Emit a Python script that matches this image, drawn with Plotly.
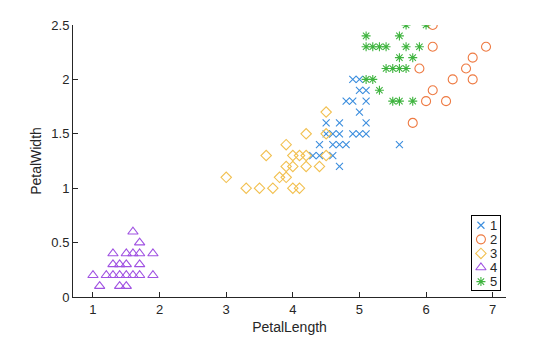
import plotly.graph_objects as go

# Cluster memberships of iris petal measurements (PetalLength, PetalWidth)
c1_len = [4.9, 5.0, 5.0, 5.1, 4.8, 4.9, 5.1, 5.0, 4.5, 4.7, 5.1, 4.5, 4.6, 4.7, 4.9, 5.0, 5.1,
          4.4, 4.6, 4.7, 4.8, 5.6, 4.3, 4.4, 4.6, 4.7]
c1_wid = [2.0, 2.0, 1.9, 1.9, 1.8, 1.8, 1.8, 1.7, 1.6, 1.6, 1.6, 1.5, 1.5, 1.5, 1.5, 1.5, 1.5,
          1.4, 1.4, 1.4, 1.4, 1.4, 1.3, 1.3, 1.3, 1.2]

c2_len = [6.1, 6.1, 6.9, 6.7, 5.9, 6.6, 6.4, 6.7, 6.1, 6.0, 6.3, 5.8]
c2_wid = [2.5, 2.3, 2.3, 2.2, 2.1, 2.1, 2.0, 2.0, 1.9, 1.8, 1.8, 1.6]

c3_len = [3.3, 3.5, 3.7, 4.0, 4.1, 3.0, 3.8, 3.9, 3.9, 4.0, 4.2, 4.4, 3.6, 4.0, 4.1, 4.2, 4.5,
          3.9, 4.2, 4.5, 4.5]
c3_wid = [1.0, 1.0, 1.0, 1.0, 1.0, 1.1, 1.1, 1.1, 1.2, 1.2, 1.2, 1.2, 1.3, 1.3, 1.3, 1.3, 1.3,
          1.4, 1.5, 1.5, 1.7]

c4_len = [1.6, 1.7, 1.3, 1.5, 1.6, 1.7, 1.9, 1.3, 1.4, 1.5, 1.7, 1.0, 1.2, 1.3, 1.4, 1.5, 1.6,
          1.7, 1.9, 1.1, 1.4, 1.5]
c4_wid = [0.6, 0.5, 0.4, 0.4, 0.4, 0.4, 0.4, 0.3, 0.3, 0.3, 0.3, 0.2, 0.2, 0.2, 0.2, 0.2, 0.2,
          0.2, 0.2, 0.1, 0.1, 0.1]

c5_len = [5.7, 6.0, 5.1, 5.6, 5.1, 5.2, 5.3, 5.4, 5.7, 5.9, 5.6, 5.8, 5.4, 5.5, 5.6, 5.7, 5.1,
          5.2, 5.3, 5.5, 5.6, 5.8]
c5_wid = [2.5, 2.5, 2.4, 2.4, 2.3, 2.3, 2.3, 2.3, 2.3, 2.3, 2.2, 2.2, 2.1, 2.1, 2.1, 2.1, 2.0,
          2.0, 1.9, 1.8, 1.8, 1.8]

group_names = ["1", "2", "3", "4", "5"]
x_ticks = [1, 2, 3, 4, 5, 6, 7]
y_ticks = [0, 0.5, 1, 1.5, 2, 2.5]
y_tick_text = ["0", "0.5", "1", "1.5", "2", "2.5"]

groups = [
    (c1_len, c1_wid, "x-thin", 7, "#3C8EDE"),
    (c2_len, c2_wid, "circle-open", 9, "#EE7A42"),
    (c3_len, c3_wid, "diamond-open", 8, "#F2C050"),
    (c4_len, c4_wid, "triangle-up-open", 9, "#A052E2"),
    (c5_len, c5_wid, "asterisk", 7.5, "#3FB43F"),
]

axis_color = "#262626"
fig = go.Figure()
for name, (xs, ys, sym, size, col) in zip(group_names, groups):
    fig.add_trace(go.Scatter(
        x=xs, y=ys, mode="markers", name=name, showlegend=False,
        marker=dict(symbol=sym, size=size, color=col, line=dict(color=col, width=1.1)),
    ))

# Compact boxed legend drawn on its own small axes in the lower-right corner
key_y = [0.88 - i * 0.19 for i in range(len(groups))]
for name, (xs, ys, sym, size, col), ky in zip(group_names, groups, key_y):
    fig.add_trace(go.Scatter(
        x=[0.33], y=[ky], mode="markers", showlegend=False, hoverinfo="skip",
        xaxis="x2", yaxis="y2",
        marker=dict(symbol=sym, size=size, color=col, line=dict(color=col, width=1.1)),
    ))
    fig.add_annotation(
        x=0.58, y=ky, xref="x2", yref="y2", text=name, showarrow=False,
        xanchor="left", yanchor="middle",
        font=dict(size=13, color=axis_color),
    )

fig.update_layout(
    width=560, height=337,
    margin=dict(l=73, r=54, t=25, b=40),
    paper_bgcolor="white", plot_bgcolor="white",
    font=dict(family="Liberation Sans, Arial, sans-serif", size=13, color=axis_color),
    showlegend=False,
    xaxis=dict(
        range=[0.7, 7.2], tickvals=x_ticks, ticks="inside", ticklen=5,
        tickcolor=axis_color, showline=True, linecolor=axis_color, linewidth=1,
        showgrid=False, zeroline=False, mirror=False, automargin=False,
        tickfont=dict(size=13, color=axis_color),
        title=dict(text="PetalLength", font=dict(size=14, color=axis_color), standoff=6),
    ),
    yaxis=dict(
        range=[0, 2.5], tickvals=y_ticks, ticktext=y_tick_text, ticks="inside", ticklen=5,
        tickcolor=axis_color, showline=True, linecolor=axis_color, linewidth=1,
        showgrid=False, zeroline=False, mirror=False, automargin=False,
        tickfont=dict(size=13, color=axis_color),
        title=dict(text="PetalWidth", font=dict(size=14, color=axis_color), standoff=6),
    ),
    xaxis2=dict(
        domain=[0.921, 0.985], anchor="y2", range=[0, 1],
        showline=True, mirror=True, linecolor="black", linewidth=1,
        showgrid=False, zeroline=False, showticklabels=False, ticks="",
        fixedrange=True, automargin=False,
    ),
    yaxis2=dict(
        domain=[0.024, 0.2965], anchor="x2", range=[0, 1],
        showline=True, mirror=True, linecolor="black", linewidth=1,
        showgrid=False, zeroline=False, showticklabels=False, ticks="",
        fixedrange=True, automargin=False,
    ),
)

fig.write_html("out.html")
